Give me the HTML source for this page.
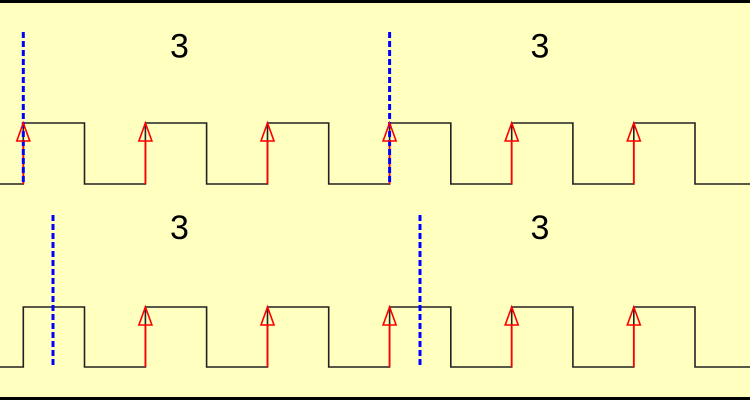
<!DOCTYPE html>
<html>
<head>
<meta charset="utf-8">
<style>
html,body{margin:0;padding:0;background:#ffffc0;}
svg{display:block;}
</style>
</head>
<body>
<svg width="750" height="400" viewBox="0 0 750 400" xmlns="http://www.w3.org/2000/svg">
<rect x="0" y="0" width="750" height="400" fill="#ffffc0"/>
<rect x="0" y="0" width="750" height="3" fill="#000"/>
<rect x="0" y="397" width="750" height="3" fill="#000"/>

<!-- top wave -->
<polyline fill="none" stroke="#222" stroke-width="1.6"
 points="0,184 23.3,184 23.3,123 84.5,123 84.5,184 145.4,184 145.4,123 206.6,123 206.6,184 267.5,184 267.5,123 328.7,123 328.7,184 389.6,184 389.6,123 450.8,123 450.8,184 511.7,184 511.7,123 572.9,123 572.9,184 633.8,184 633.8,123 695,123 695,184 750,184"/>
<!-- bottom wave -->
<polyline fill="none" stroke="#222" stroke-width="1.6"
 points="0,367 23.3,367 23.3,307 84.5,307 84.5,367 145.4,367 145.4,307 206.6,307 206.6,367 267.5,367 267.5,307 328.7,307 328.7,367 389.6,367 389.6,307 450.8,307 450.8,367 511.7,367 511.7,307 572.9,307 572.9,367 633.8,367 633.8,307 695,307 695,367 750,367"/>

<!-- red shafts -->
<g stroke="#ff0000" stroke-width="1.8">
<line x1="23.3" y1="184" x2="23.3" y2="140"/>
<line x1="145.4" y1="184" x2="145.4" y2="140"/>
<line x1="267.5" y1="184" x2="267.5" y2="140"/>
<line x1="389.6" y1="184" x2="389.6" y2="140"/>
<line x1="511.7" y1="184" x2="511.7" y2="140"/>
<line x1="633.8" y1="184" x2="633.8" y2="140"/>
<line x1="145.4" y1="367" x2="145.4" y2="324"/>
<line x1="267.5" y1="367" x2="267.5" y2="324"/>
<line x1="389.6" y1="367" x2="389.6" y2="324"/>
<line x1="511.7" y1="367" x2="511.7" y2="324"/>
<line x1="633.8" y1="367" x2="633.8" y2="324"/>
</g>

<!-- blue dashed lines -->
<g stroke="#0000ff" stroke-width="3" stroke-dasharray="6,3">
<line x1="23.3" y1="32" x2="23.3" y2="184"/>
<line x1="389.6" y1="32" x2="389.6" y2="184"/>
<line x1="53" y1="215" x2="53" y2="367"/>
<line x1="420" y1="215" x2="420" y2="367"/>
</g>

<!-- arrowheads -->
<g fill="none" stroke="#ff0000" stroke-width="1.6" stroke-linejoin="miter">
<polygon points="23.3,123 16.8,141 29.8,141"/>
<polygon points="145.4,123 138.9,141 151.9,141"/>
<polygon points="267.5,123 261,141 274,141"/>
<polygon points="389.6,123 383.1,141 396.1,141"/>
<polygon points="511.7,123 505.2,141 518.2,141"/>
<polygon points="633.8,123 627.3,141 640.3,141"/>
<polygon points="145.4,307 138.9,325 151.9,325"/>
<polygon points="267.5,307 261,325 274,325"/>
<polygon points="389.6,307 383.1,325 396.1,325"/>
<polygon points="511.7,307 505.2,325 518.2,325"/>
<polygon points="633.8,307 627.3,325 640.3,325"/>
</g>

<g font-family="Liberation Sans, sans-serif" font-size="34" fill="#000" text-anchor="middle">
<text x="179.5" y="57.5">3</text>
<text x="540" y="57.5">3</text>
<text x="179.5" y="239">3</text>
<text x="540" y="239">3</text>
</g>
</svg>
</body>
</html>
